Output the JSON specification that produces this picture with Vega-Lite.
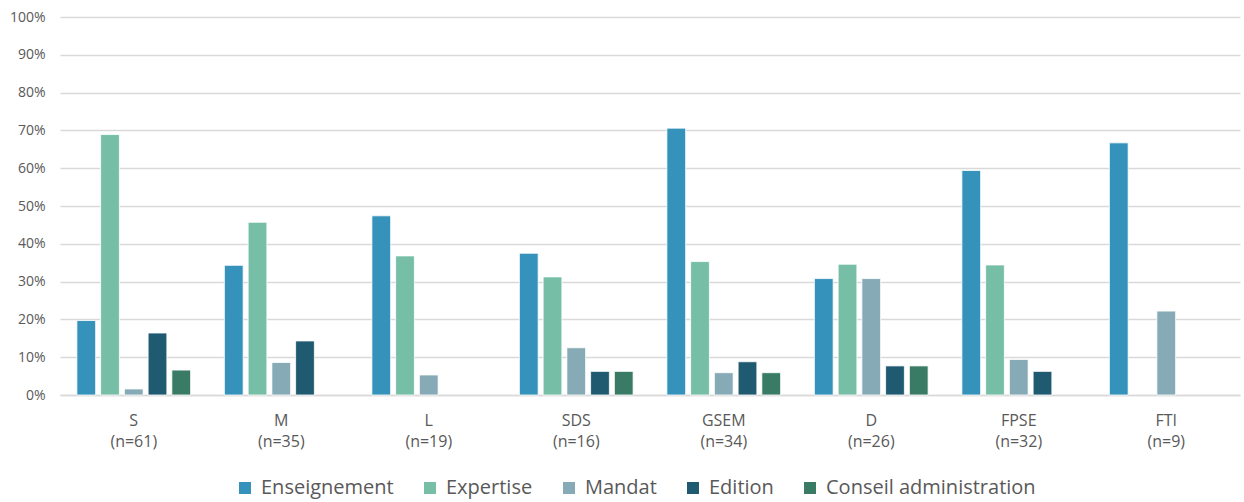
{
  "$schema": "https://vega.github.io/schema/vega-lite/v6.json",
  "width": 1180,
  "height": 378,
  "autosize": {"type": "none"},
  "padding": {"left": 60, "top": 17, "right": 4, "bottom": 107},
  "background": "white",
  "config": {
    "view": {"stroke": null},
    "font": "Open Sans",
    "axis": {"labelColor": "#595959", "labelFont": "Open Sans"},
    "legend": {"labelColor": "#595959", "labelFont": "Open Sans"}
  },
  "data": {
    "values": [
      {"groupe": "S (n=61)", "type": "Enseignement", "pct": 0.197},
      {"groupe": "S (n=61)", "type": "Expertise", "pct": 0.689},
      {"groupe": "S (n=61)", "type": "Mandat", "pct": 0.016},
      {"groupe": "S (n=61)", "type": "Edition", "pct": 0.164},
      {"groupe": "S (n=61)", "type": "Conseil administration", "pct": 0.066},
      {"groupe": "M (n=35)", "type": "Enseignement", "pct": 0.343},
      {"groupe": "M (n=35)", "type": "Expertise", "pct": 0.457},
      {"groupe": "M (n=35)", "type": "Mandat", "pct": 0.086},
      {"groupe": "M (n=35)", "type": "Edition", "pct": 0.143},
      {"groupe": "L (n=19)", "type": "Enseignement", "pct": 0.474},
      {"groupe": "L (n=19)", "type": "Expertise", "pct": 0.368},
      {"groupe": "L (n=19)", "type": "Mandat", "pct": 0.053},
      {"groupe": "SDS (n=16)", "type": "Enseignement", "pct": 0.375},
      {"groupe": "SDS (n=16)", "type": "Expertise", "pct": 0.3125},
      {"groupe": "SDS (n=16)", "type": "Mandat", "pct": 0.125},
      {"groupe": "SDS (n=16)", "type": "Edition", "pct": 0.0625},
      {"groupe": "SDS (n=16)", "type": "Conseil administration", "pct": 0.0625},
      {"groupe": "GSEM (n=34)", "type": "Enseignement", "pct": 0.706},
      {"groupe": "GSEM (n=34)", "type": "Expertise", "pct": 0.353},
      {"groupe": "GSEM (n=34)", "type": "Mandat", "pct": 0.059},
      {"groupe": "GSEM (n=34)", "type": "Edition", "pct": 0.088},
      {"groupe": "GSEM (n=34)", "type": "Conseil administration", "pct": 0.059},
      {"groupe": "D (n=26)", "type": "Enseignement", "pct": 0.308},
      {"groupe": "D (n=26)", "type": "Expertise", "pct": 0.346},
      {"groupe": "D (n=26)", "type": "Mandat", "pct": 0.308},
      {"groupe": "D (n=26)", "type": "Edition", "pct": 0.077},
      {"groupe": "D (n=26)", "type": "Conseil administration", "pct": 0.077},
      {"groupe": "FPSE (n=32)", "type": "Enseignement", "pct": 0.594},
      {"groupe": "FPSE (n=32)", "type": "Expertise", "pct": 0.344},
      {"groupe": "FPSE (n=32)", "type": "Mandat", "pct": 0.094},
      {"groupe": "FPSE (n=32)", "type": "Edition", "pct": 0.0625},
      {"groupe": "FTI (n=9)", "type": "Enseignement", "pct": 0.667},
      {"groupe": "FTI (n=9)", "type": "Mandat", "pct": 0.222}
    ]
  },
  "mark": {"type": "bar", "stroke": "white", "strokeWidth": 0.8},
  "encoding": {
    "x": {
      "field": "groupe",
      "type": "nominal",
      "sort": null,
      "scale": {"paddingInner": 0.229, "paddingOuter": 0.1145},
      "axis": {
        "title": null,
        "labelAngle": 0,
        "labelExpr": "split(datum.label, ' ')",
        "labelLineHeight": 21,
        "labelFontSize": 16,
        "labelPadding": 17,
        "ticks": false,
        "domainColor": "#D9D9D9",
        "domainWidth": 1.3
      }
    },
    "xOffset": {
      "field": "type",
      "type": "nominal",
      "scale": {
        "domain": ["Enseignement", "Expertise", "Mandat", "Edition", "Conseil administration"],
        "paddingInner": 0.21,
        "paddingOuter": 0
      }
    },
    "y": {
      "field": "pct",
      "type": "quantitative",
      "scale": {"domain": [0, 1]},
      "axis": {
        "title": null,
        "format": ".0%",
        "values": [0, 0.1, 0.2, 0.3, 0.4, 0.5, 0.6, 0.7, 0.8, 0.9, 1],
        "labelFontSize": 14,
        "labelPadding": 15,
        "ticks": false,
        "domain": false,
        "gridColor": "#D9D9D9",
        "gridWidth": 1.3
      }
    },
    "color": {
      "field": "type",
      "type": "nominal",
      "scale": {
        "domain": ["Enseignement", "Expertise", "Mandat", "Edition", "Conseil administration"],
        "range": ["#3592BA", "#76BFA6", "#86ABB6", "#1F5A70", "#3A7B66"]
      },
      "legend": {
        "title": null,
        "orient": "none",
        "direction": "horizontal",
        "legendX": 175,
        "legendY": 461,
        "symbolType": "square",
        "symbolSize": 144,
        "symbolStrokeWidth": 0,
        "labelFontSize": 20,
        "labelOffset": 6,
        "columnPadding": 26,
        "labelLimit": 400
      }
    }
  }
}
